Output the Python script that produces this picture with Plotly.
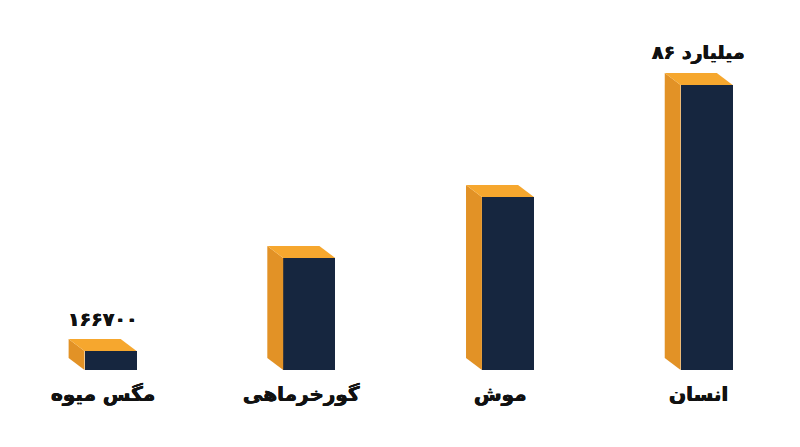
import plotly.graph_objects as go

# categories and values
animals = ["مگس میوه", "گورخرماهی", "موش", "انسان"]
bar_heights = [19, 112, 173, 285]  # drawn heights (not to scale with the real counts)
value_labels = ["۱۶۶۷۰۰", "", "", "۸۶ میلیارد"]

front_color = "#16263F"
top_color = "#F6A72E"
side_color = "#E29226"
font_family = "DejaVu Sans"
text_weight = "0.4px 0 0 #111111, -0.4px 0 0 #111111"  # thickens the bold glyphs a bit

bar_w = 0.262   # width of the front face, in category units
dx = -0.08      # depth offset to the left
dy = 12         # depth offset upwards

fig = go.Figure()

for i, (name, h) in enumerate(zip(animals, bar_heights)):
    x0, x1 = i - bar_w / 2, i + bar_w / 2
    # side face
    fig.add_trace(go.Scatter(
        x=[x0, x0 + dx, x0 + dx, x0, x0], y=[0, dy, h + dy, h, 0],
        fill="toself", fillcolor=side_color, mode="none",
        hoverinfo="skip", showlegend=False))
    # top face
    fig.add_trace(go.Scatter(
        x=[x0, x0 + dx, x1 + dx, x1, x0], y=[h, h + dy, h + dy, h, h],
        fill="toself", fillcolor=top_color, mode="none",
        hoverinfo="skip", showlegend=False))

# front faces
fig.add_trace(go.Bar(x=list(range(len(animals))), y=bar_heights, width=bar_w,
                     marker_color=front_color, marker_line_width=0,
                     showlegend=False, hovertext=animals))

for i, (name, h, lab) in enumerate(zip(animals, bar_heights, value_labels)):
    fig.add_annotation(x=i + dx / 2, y=-24, text=name, showarrow=False,
                       font=dict(family=font_family, size=20, color="#111111",
                                 weight="bold", shadow=text_weight),
                       xanchor="center", yanchor="middle")
    if lab:
        fig.add_annotation(x=i + dx / 2, y=h + dy + 7, text=lab, showarrow=False,
                           font=dict(family=font_family, size=19, color="#111111",
                                     weight="bold", shadow=text_weight),
                           xanchor="center", yanchor="bottom")

# the page body has an 8px margin, so the ranges are shifted to compensate
fig.update_xaxes(range=[-0.516, 3.51], visible=False)
fig.update_yaxes(range=[-85, 362], visible=False)
fig.update_layout(width=800, height=447, margin=dict(l=0, r=0, t=0, b=0),
                  plot_bgcolor="white", paper_bgcolor="white", bargap=0)

fig.write_html("out.html")
